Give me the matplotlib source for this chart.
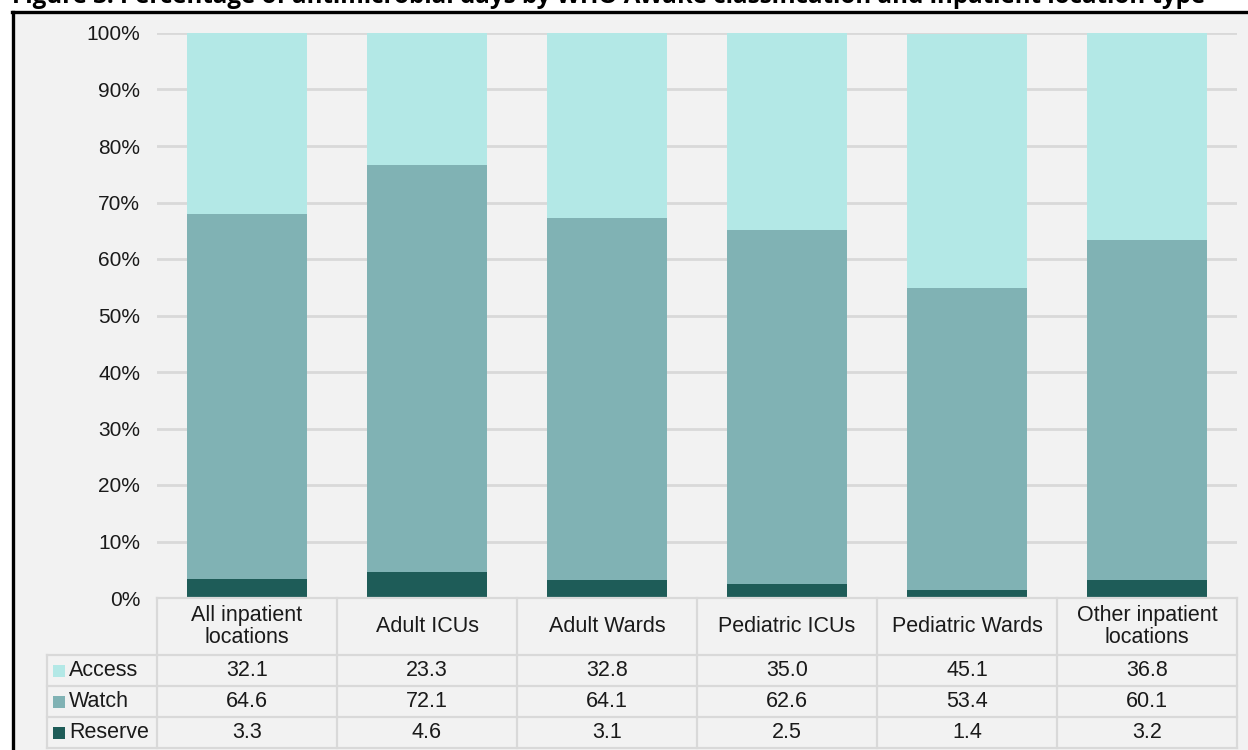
import numpy as np
import matplotlib
matplotlib.use('Agg')
import matplotlib.pyplot as plt
from matplotlib.patches import Rectangle
from matplotlib.lines import Line2D

plt.rcParams['font.family'] = ['Liberation Sans', 'DejaVu Sans']

# datos
ubicaciones = ['All inpatient\nlocations', 'Adult ICUs', 'Adult Wards',
               'Pediatric ICUs', 'Pediatric Wards', 'Other inpatient\nlocations']
series = ['Access', 'Watch', 'Reserve']
access = [32.1, 23.3, 32.8, 35.0, 45.1, 36.8]
watch = [64.6, 72.1, 64.1, 62.6, 53.4, 60.1]
reserve = [3.3, 4.6, 3.1, 2.5, 1.4, 3.2]
colores = ['#b3e8e6', '#80b2b4', '#1e5c58']
titulo = 'Figure 3. Percentage of antimicrobial days by WHO AWaRe classification and inpatient location type'

W, H = 1248, 750
fig = plt.figure(figsize=(W / 100, H / 100), dpi=100)
fig.patch.set_facecolor('white')

def px(x0, y0, x1, y1):
    """caja en pixeles (y desde arriba) -> coords de figura"""
    return [x0 / W, 1 - y1 / H, (x1 - x0) / W, (y1 - y0) / H]

fs = 15.5

# fondo gris y marco
fig.patches.append(Rectangle((13 / W, 0), 1, 1 - 12 / H, transform=fig.transFigure,
                             facecolor='#f2f2f2', edgecolor='none', zorder=-5))
fig.add_artist(Line2D([12 / W, 1], [1 - 12 / H, 1 - 12 / H], color='black', lw=2.4,
                      transform=fig.transFigure))
fig.add_artist(Line2D([13 / W, 13 / W], [0, 1 - 12 / H], color='black', lw=2.4,
                      transform=fig.transFigure))
fig.text(12 / W, 1 - 3 / H, titulo, fontsize=17.4, fontweight='bold', ha='left',
         va='baseline', family=['Open Sans', 'DejaVu Sans'])

# grafico de barras
ax = fig.add_axes(px(157, 33, 1237, 598))
ax.set_facecolor('none')
x = np.arange(len(ubicaciones))
ancho = 0.667
ax.bar(x, reserve, ancho, color=colores[2], zorder=3)
ax.bar(x, watch, ancho, bottom=reserve, color=colores[1], zorder=3)
ax.bar(x, access, ancho, bottom=np.array(reserve) + np.array(watch), color=colores[0], zorder=3)
ax.set_xlim(-0.5, len(ubicaciones) - 0.5)
ax.set_ylim(0, 100)
ax.set_yticks(np.arange(0, 101, 10))
ax.set_yticklabels([f'{v}%' for v in range(0, 101, 10)], fontsize=15, color='#1a1a1a')
ax.tick_params(axis='y', length=0, pad=12)
ax.set_xticks([])
for v in range(10, 101, 10):
    ax.axhline(v, color='#d9d9d9', lw=2, zorder=1)
for s in ax.spines.values():
    s.set_visible(False)

# tabla de datos
tx = fig.add_axes(px(157, 598, 1237, 748))
tx.set_facecolor('none')
tx.set_xlim(-0.5, len(ubicaciones) - 0.5)
tx.set_ylim(150, 0)
tx.axis('off')
col_izq = -0.5 - 110 / 180
lc = '#d9d9d9'
lw = 1.6
filas = [0, 57, 88, 119, 150]
n = len(ubicaciones)
tx.plot([-0.5, n - 0.5], [0, 0], color=lc, lw=lw, clip_on=False)
for yy in filas[1:]:
    tx.plot([col_izq, n - 0.5], [yy, yy], color=lc, lw=lw, clip_on=False)
for i in range(n + 1):
    tx.plot([i - 0.5, i - 0.5], [0, 150], color=lc, lw=lw, clip_on=False)
tx.plot([col_izq, col_izq], [57, 150], color=lc, lw=lw, clip_on=False)

for i, nombre in enumerate(ubicaciones):
    tx.text(i, 28.5, nombre, ha='center', va='center', fontsize=fs, color='#1a1a1a',
            linespacing=1.1)

valores = [access, watch, reserve]
for r, (serie, vals, col) in enumerate(zip(series, valores, colores)):
    yc = (filas[r + 1] + filas[r + 2]) / 2
    tx.add_patch(Rectangle((col_izq + 6 / 180, yc - 6), 12 / 180, 12, facecolor=col,
                           edgecolor='none', clip_on=False))
    tx.text(col_izq + 22 / 180, yc, serie, ha='left', va='center', fontsize=fs,
            color='#1a1a1a')
    for i, v in enumerate(vals):
        tx.text(i, yc, f'{v:.1f}', ha='center', va='center', fontsize=fs, color='#1a1a1a')

fig.savefig('out.png', dpi=100)
